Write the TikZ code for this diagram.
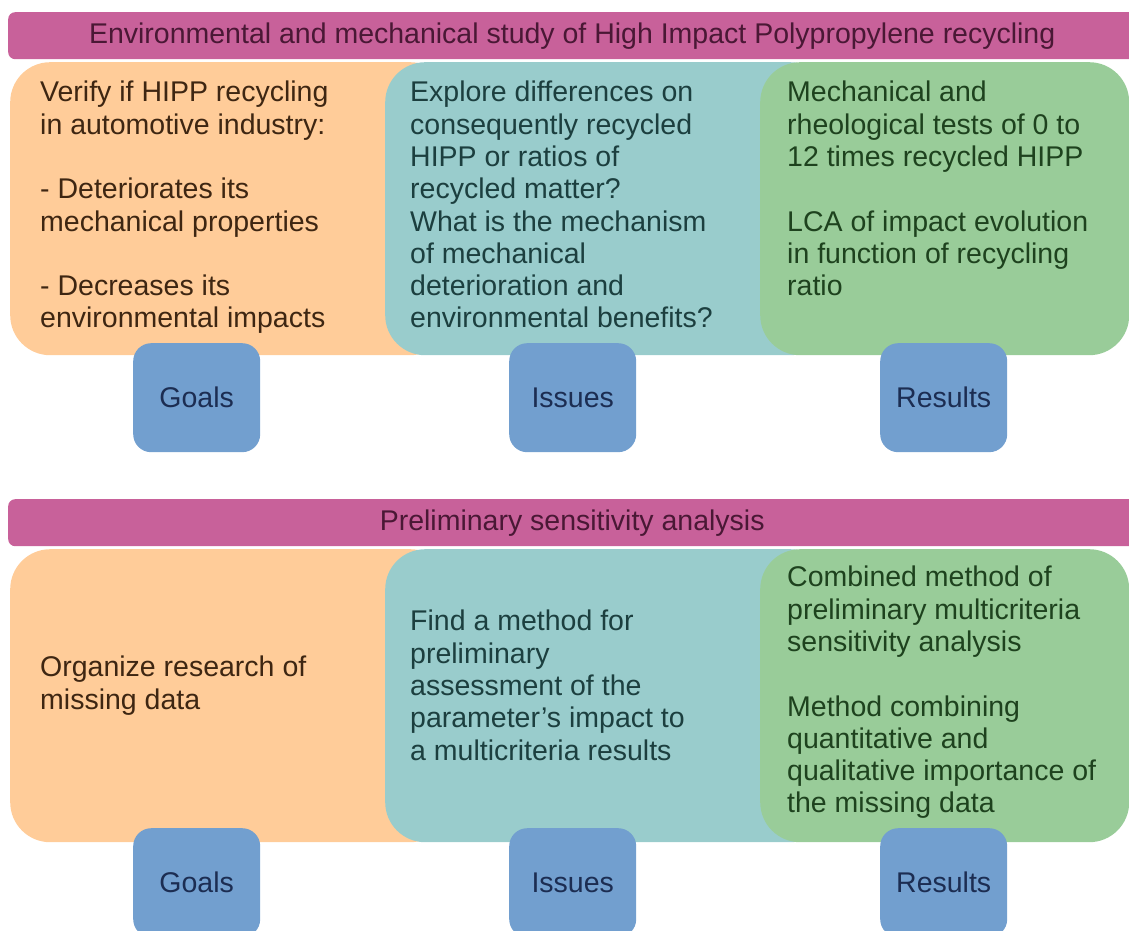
\documentclass[tikz,border=0pt]{standalone}
\usepackage{fontspec}
\setmainfont{Liberation Sans}
\usepackage{xcolor}
\definecolor{barpink}{HTML}{C8619A}
\definecolor{bartext}{HTML}{4A1835}
\definecolor{goalfill}{HTML}{FFCC99}
\definecolor{goaltext}{HTML}{3E2612}
\definecolor{issuefill}{HTML}{99CCCC}
\definecolor{issuetext}{HTML}{1C3F3F}
\definecolor{resultfill}{HTML}{99CC99}
\definecolor{resulttext}{HTML}{1E421E}
\definecolor{tagblue}{HTML}{729FCF}
\definecolor{tagtext}{HTML}{1C2D52}
\newcommand{\boxfont}{\fontsize{28.5pt}{32.3pt}\selectfont}

\begin{document}
\begin{tikzpicture}[x=1pt,y=-1pt,
  bar/.style={fill=barpink, rounded corners=7pt, minimum width=1128pt, minimum height=47pt, anchor=north west, inner sep=0pt, text=bartext, font=\boxfont},
  panel/.style={rounded corners=40pt, minimum height=293pt, anchor=north west, inner sep=0pt},
  tag/.style={fill=tagblue, rounded corners=18pt, minimum width=127pt, minimum height=109pt, anchor=north west, inner sep=0pt, text=tagtext, font=\boxfont},
  txt/.style={align=left, anchor=north west, inner sep=0pt, font=\boxfont}]
\useasboundingbox (0,0) rectangle (1129,931);
\clip (0,0) rectangle (1129,931);

% first study
\node[bar] (bar1) at (8,12) {Environmental and mechanical study of High Impact Polypropylene recycling};
\node[panel, fill=goalfill, minimum width=440pt] (goal1) at (10,62) {};
\node[panel, fill=issuefill, minimum width=445pt] (issue1) at (385,62) {};
\node[panel, fill=resultfill, minimum width=369pt] (result1) at (760,62) {};
\node[txt, text=goaltext] (goaltxt1) at (40,81) {Verify if HIPP recycling\\ in automotive industry:\\[\baselineskip] - Deteriorates its\\ mechanical properties\\[\baselineskip] - Decreases its\\ environmental impacts};
\node[txt, text=issuetext] (issuetxt1) at (410,81) {Explore differences on\\ consequently recycled\\ HIPP or ratios of\\ recycled matter?\\ What is the mechanism\\ of mechanical\\ deterioration and\\ environmental benefits?};
\node[txt, text=resulttext] (resulttxt1) at (787,81) {Mechanical and\\ rheological tests of 0 to\\ 12 times recycled HIPP\\[\baselineskip] LCA of impact evolution\\ in function of recycling\\ ratio};
\node[tag] (goaltag1) at (133,343) {Goals};
\node[tag] (issuetag1) at (509,343) {Issues};
\node[tag] (resulttag1) at (880,343) {Results};

% second study
\node[bar] (bar2) at (8,499) {Preliminary sensitivity analysis};
\node[panel, fill=goalfill, minimum width=440pt] (goal2) at (10,549) {};
\node[panel, fill=issuefill, minimum width=445pt] (issue2) at (385,549) {};
\node[panel, fill=resultfill, minimum width=369pt] (result2) at (760,549) {};
\node[txt, text=goaltext] (goaltxt2) at (40,656) {Organize research of\\ missing data};
\node[txt, text=issuetext] (issuetxt2) at (410,610) {Find a method for\\ preliminary\\ assessment of the\\ parameter's impact to\\ a multicriteria results};
\node[txt, text=resulttext] (resulttxt2) at (787,566) {Combined method of\\ preliminary multicriteria\\ sensitivity analysis\\[\baselineskip] Method combining\\ quantitative and\\ qualitative importance of\\ the missing data};
\node[tag] (goaltag2) at (133,828) {Goals};
\node[tag] (issuetag2) at (509,828) {Issues};
\node[tag] (resulttag2) at (880,828) {Results};
\end{tikzpicture}
\end{document}
